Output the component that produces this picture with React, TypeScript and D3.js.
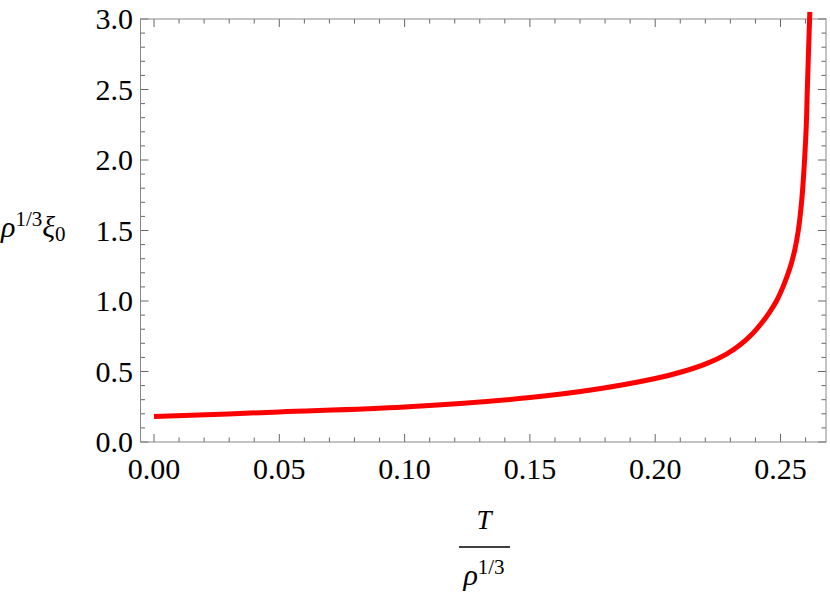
import React from "react";
import * as d3 from "d3";

const tValues = [0, 0.05, 0.1, 0.15, 0.175, 0.2, 0.2111, 0.2207, 0.2281, 0.2338, 0.2384, 0.2424, 0.2456, 0.2484, 0.251, 0.2538, 0.2556, 0.2571, 0.2585, 0.2596, 0.2603, 0.2607, 0.2612, 0.2617];
const xiValues = [0.18, 0.213, 0.248, 0.315, 0.37, 0.45, 0.5, 0.558, 0.62, 0.688, 0.76, 0.842, 0.92, 1.0, 1.1, 1.235, 1.355, 1.5, 1.72, 2.0, 2.25, 2.5, 2.78, 3.05];
const xMajorTicks = [0, 0.05, 0.1, 0.15, 0.2, 0.25];
const xTickLabels = ["0.00", "0.05", "0.10", "0.15", "0.20", "0.25"];
const yMajorTicks = [0, 0.5, 1, 1.5, 2, 2.5, 3];
const yTickLabels = ["0.0", "0.5", "1.0", "1.5", "2.0", "2.5", "3.0"];

const FONT = "'Liberation Serif', 'Times New Roman', serif";

export default function App() {
  const left = 140.5, right = 826, top = 19, bottom = 442;
  const x = d3.scaleLinear().domain([0, 0.25]).range([154, 780.5]);
  const y = d3.scaleLinear().domain([0, 3]).range([bottom, top]);
  const xMinor = d3.range(0, 27).map((i) => i / 100).filter((v) => x(v) > left && x(v) < right && Math.round(v * 100) % 5 !== 0);
  const yMinor = d3.range(0, 31).map((i) => i / 10).filter((v) => Math.round(v * 10) % 5 !== 0);
  const line = d3
    .line<number>()
    .x((_, i) => x(tValues[i]))
    .y((d) => y(d))
    .curve(d3.curveCatmullRom.alpha(0.5));
  const tickColor = "#666";
  const maj = 8, min = 4.5;
  return (
    <svg width={830} height={597} style={{ position: "absolute", left: 0, top: 0 }} fontFamily={FONT}>
      <rect x={0} y={0} width={830} height={597} fill="white" />
      <g stroke={tickColor} strokeWidth={1}>
        {xMajorTicks.map((v) => (
          <g key={"xm" + v}>
            <line x1={x(v)} x2={x(v)} y1={bottom} y2={bottom - maj} />
            <line x1={x(v)} x2={x(v)} y1={top} y2={top + maj} />
          </g>
        ))}
        {xMinor.map((v) => (
          <g key={"xn" + v}>
            <line x1={x(v)} x2={x(v)} y1={bottom} y2={bottom - min} />
            <line x1={x(v)} x2={x(v)} y1={top} y2={top + min} />
          </g>
        ))}
        {yMajorTicks.map((v) => (
          <g key={"ym" + v}>
            <line x1={left} x2={left + maj} y1={y(v)} y2={y(v)} />
            <line x1={right} x2={right - maj} y1={y(v)} y2={y(v)} />
          </g>
        ))}
        {yMinor.map((v) => (
          <g key={"yn" + v}>
            <line x1={left} x2={left + min} y1={y(v)} y2={y(v)} />
            <line x1={right} x2={right - min} y1={y(v)} y2={y(v)} />
          </g>
        ))}
        <rect x={left} y={top} width={right - left} height={bottom - top} fill="none" stroke="#888" />
      </g>
      <path d={line(xiValues) || ""} fill="none" stroke="#ff0000" strokeWidth={5} />
      <g fontSize={30} fill="black">
        {xMajorTicks.map((v, i) => (
          <text key={"xl" + v} x={x(v)} y={479} textAnchor="middle">
            {xTickLabels[i]}
          </text>
        ))}
        {yMajorTicks.map((v, i) => (
          <text key={"yl" + v} x={133} y={y(v) + 10} textAnchor="end">
            {yTickLabels[i]}
          </text>
        ))}
      </g>
      <text x={1} y={237} fontSize={30} fill="black">
        <tspan fontStyle="italic">ρ</tspan>
        <tspan fontSize={21} dy={-11}>1/3</tspan>
        <tspan fontStyle="italic" fontSize={30} dy={11}>ξ</tspan>
        <tspan fontSize={21} dy={4}>0</tspan>
      </text>
      <text x={484} y={529} fontSize={27} fontStyle="italic" textAnchor="middle" fill="black">
        T
      </text>
      <line x1={459} x2={510} y1={547} y2={547} stroke="black" strokeWidth={1.5} />
      <text x={484} y={585} fontSize={30} textAnchor="middle" fill="black">
        <tspan fontStyle="italic">ρ</tspan>
        <tspan fontSize={21} dy={-11}>1/3</tspan>
      </text>
    </svg>
  );
}
